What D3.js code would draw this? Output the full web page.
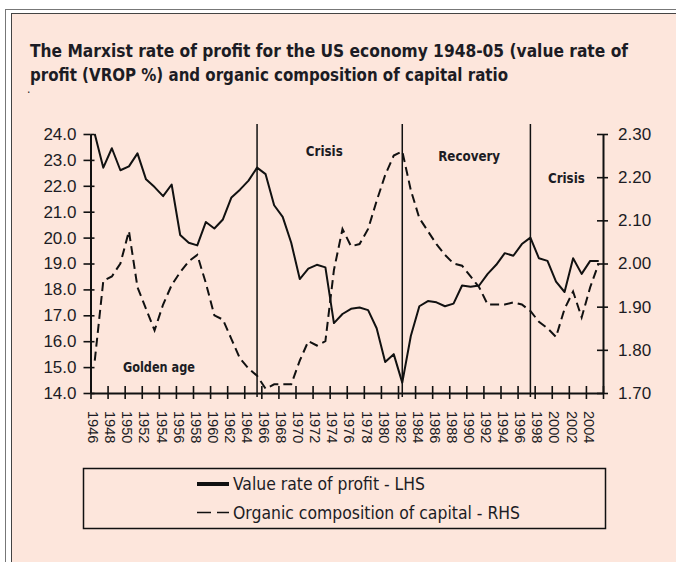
<!DOCTYPE html>
<html>
<head>
<meta charset="utf-8">
<script src="https://cdn.jsdelivr.net/npm/d3@7"></script>
<style>
  html, body { margin: 0; padding: 0; background: #fff; }
  svg { display: block; }
  text { fill: #1c1c24; }
</style>
</head>
<body>
<svg id="chart"></svg>
<script>
const years = d3.range(1946, 2006);

// value rate of profit, % (left axis)
const vrop = [
  24.0, 22.7, 23.45, 22.6, 22.75, 23.25, 22.25, 21.95, 21.6, 22.05,
  20.1, 19.8, 19.7, 20.6, 20.35, 20.7, 21.55, 21.85, 22.2, 22.7,
  22.45, 21.25, 20.8, 19.8, 18.4, 18.8, 18.95, 18.85, 16.7, 17.05,
  17.25, 17.3, 17.2, 16.5, 15.2, 15.5, 14.4, 16.2, 17.35, 17.55,
  17.5, 17.35, 17.45, 18.15, 18.1, 18.15, 18.6, 18.95, 19.4, 19.3,
  19.75, 20.0, 19.2, 19.1, 18.3, 17.9, 19.2, 18.6, 19.1, 19.1,
];

// organic composition of capital ratio (right axis)
const occ = [
  1.775, 1.96, 1.97, 2.0, 2.075, 1.945, 1.895, 1.845, 1.905, 1.95,
  1.98, 2.005, 2.02, 1.955, 1.88, 1.87, 1.825, 1.78, 1.757, 1.74,
  1.71, 1.72, 1.72, 1.72, 1.775, 1.82, 1.81, 1.82, 1.985, 2.08,
  2.04, 2.045, 2.08, 2.145, 2.205, 2.25, 2.26, 2.17, 2.105, 2.075,
  2.045, 2.02, 2.0, 1.995, 1.97, 1.945, 1.905, 1.905, 1.905, 1.91,
  1.905, 1.89, 1.865, 1.85, 1.83, 1.895, 1.935, 1.875, 1.945, 2.0,
];

const leftTicks = [24, 23, 22, 21, 20, 19, 18, 17, 16, 15, 14];
const rightTicks = [2.3, 2.2, 2.1, 2.0, 1.9, 1.8, 1.7];
const yearLabels = d3.range(1946, 2005, 2);
const yearTicks = d3.range(1946, 2007, 2);

// period separators and their names
const dividers = [1965, 1982, 1997];
const periods = [
  { name: "Golden age", year: 1949.8, value: 14.8, len: 72 },
  { name: "Crisis", year: 1971.2, value: 23.15, len: 37 },
  { name: "Recovery", year: 1986.7, value: 22.95, len: 62 },
  { name: "Crisis", year: 1999.55, value: 22.1, len: 37 },
];

const title = [
  "The Marxist rate of profit for the US economy 1948-05 (value rate of",
  "profit (VROP %) and organic composition of capital ratio",
];
const legendItems = [
  "Value rate of profit - LHS",
  "Organic composition of capital - RHS",
];

const width = 676;
const height = 562;
const narrow = "'Liberation Sans Narrow', 'Arial Narrow', 'DejaVu Sans Condensed', sans-serif";
const plain = "'Liberation Sans', Arial, sans-serif";

const svg = d3.select("#chart")
  .attr("width", width)
  .attr("height", height)
  .attr("viewBox", [0, 0, width, height]);

// page frame (double rule) and pink panel
svg.append("rect")
  .attr("x", 12).attr("y", 14)
  .attr("width", width).attr("height", height)
  .attr("fill", "#fde6dc");
svg.append("rect")
  .attr("x", 5.5).attr("y", 9.5)
  .attr("width", width).attr("height", height)
  .attr("fill", "none").attr("stroke", "#777").attr("stroke-width", 1);
svg.append("rect")
  .attr("x", 11.5).attr("y", 13.5)
  .attr("width", width).attr("height", height)
  .attr("fill", "none").attr("stroke", "#444").attr("stroke-width", 1);

// title
svg.append("g")
  .selectAll("text")
  .data(title)
  .join("text")
  .attr("x", 30)
  .attr("y", (d, i) => 57 + i * 24)
  .attr("font-family", narrow)
  .attr("font-weight", "bold")
  .attr("font-size", 18.5)
  .attr("textLength", (d, i) => (i === 0 ? 598 : 478))
  .attr("lengthAdjust", "spacingAndGlyphs")
  .text((d) => d);
svg.append("text")
  .attr("x", 27).attr("y", 93)
  .attr("font-family", narrow)
  .attr("font-size", 12)
  .text(".");

// scales
const x = d3.scaleLinear().domain([1946, 2006]).range([90.5, 603]);
const yL = d3.scaleLinear().domain([14, 24]).range([393, 134]);
const yR = d3.scaleLinear().domain([1.7, 2.3]).range([393, 134]);
const xc = (i) => x(years[i] + 0.5);

// period dividers
svg.append("g")
  .attr("stroke", "#111")
  .attr("stroke-width", 1.5)
  .selectAll("line")
  .data(dividers)
  .join("line")
  .attr("x1", (d) => x(d + 0.5))
  .attr("x2", (d) => x(d + 0.5))
  .attr("y1", 124)
  .attr("y2", 397);

// period names
svg.append("g")
  .selectAll("text")
  .data(periods)
  .join("text")
  .attr("x", (d) => x(d.year))
  .attr("y", (d) => yL(d.value))
  .attr("font-family", narrow)
  .attr("font-weight", "bold")
  .attr("font-size", 14)
  .attr("textLength", (d) => d.len)
  .attr("lengthAdjust", "spacingAndGlyphs")
  .text((d) => d.name);

// lines
const solid = d3.line().x((d, i) => xc(i)).y((d) => yL(d));
const dashed = d3.line().x((d, i) => xc(i)).y((d) => yR(d));

svg.append("path")
  .datum(occ)
  .attr("fill", "none")
  .attr("stroke", "#111")
  .attr("stroke-width", 2)
  .attr("stroke-dasharray", "9,5")
  .attr("d", dashed);

svg.append("path")
  .datum(vrop)
  .attr("fill", "none")
  .attr("stroke", "#111")
  .attr("stroke-width", 2)
  .attr("stroke-linejoin", "round")
  .attr("d", solid);

// left axis
const leftAxis = svg.append("g")
  .attr("transform", `translate(${x(1946)} 0)`)
  .call(d3.axisLeft(yL).tickValues(leftTicks).tickFormat(d3.format(".1f"))
    .tickSize(7).tickPadding(7).tickSizeOuter(0));
leftAxis.selectAll(".tick line").clone().attr("x2", 4);

// right axis
const rightAxis = svg.append("g")
  .attr("transform", `translate(${x(2006)} 0)`)
  .call(d3.axisRight(yR).tickValues(rightTicks).tickFormat(d3.format(".2f"))
    .tickSize(5).tickPadding(10).tickSizeOuter(0));
rightAxis.selectAll(".tick line").clone().attr("x2", -6);

// x axis with crossing ticks every two years
const xAxis = svg.append("g")
  .attr("transform", `translate(0 ${yL(14)})`)
  .call(d3.axisBottom(x).tickValues(yearTicks).tickFormat("")
    .tickSize(6).tickSizeOuter(0));
xAxis.selectAll(".tick line").clone().attr("y2", -7);

[leftAxis, rightAxis, xAxis].forEach((g) => {
  g.select(".domain").attr("stroke", "#111").attr("stroke-width", 2);
  g.selectAll(".tick line").attr("stroke", "#111").attr("stroke-width", 1.6);
  g.selectAll("text")
    .attr("fill", "#1c1c24")
    .attr("font-family", plain)
    .attr("font-size", 17);
});

// rotated year labels
svg.append("g")
  .selectAll("text")
  .data(yearLabels)
  .join("text")
  .attr("transform", (d) => `translate(${x(d + 0.5) - 1.5} 411) rotate(90)`)
  .attr("dy", "0.35em")
  .attr("font-family", plain)
  .attr("font-size", 14.5)
  .text((d) => d);

// legend
const legend = svg.append("g");
legend.append("rect")
  .attr("x", 83.5).attr("y", 468.5)
  .attr("width", 522).attr("height", 60)
  .attr("fill", "none").attr("stroke", "#111").attr("stroke-width", 1.5);

const legendRows = legend.selectAll("g")
  .data(legendItems)
  .join("g")
  .attr("transform", (d, i) => `translate(0 ${484 + i * 28.5})`);

legendRows.append("line")
  .attr("x1", 197).attr("x2", 229)
  .attr("stroke", "#111")
  .attr("stroke-width", (d, i) => (i === 0 ? 4 : 1.6))
  .attr("stroke-dasharray", (d, i) => (i === 0 ? null : "14,6"));

legendRows.append("text")
  .attr("x", 233)
  .attr("dy", "0.36em")
  .attr("font-family", narrow)
  .attr("font-size", 17)
  .attr("textLength", (d, i) => (i === 0 ? 192 : 287))
  .attr("lengthAdjust", "spacingAndGlyphs")
  .text((d) => d);
</script>
</body>
</html>
